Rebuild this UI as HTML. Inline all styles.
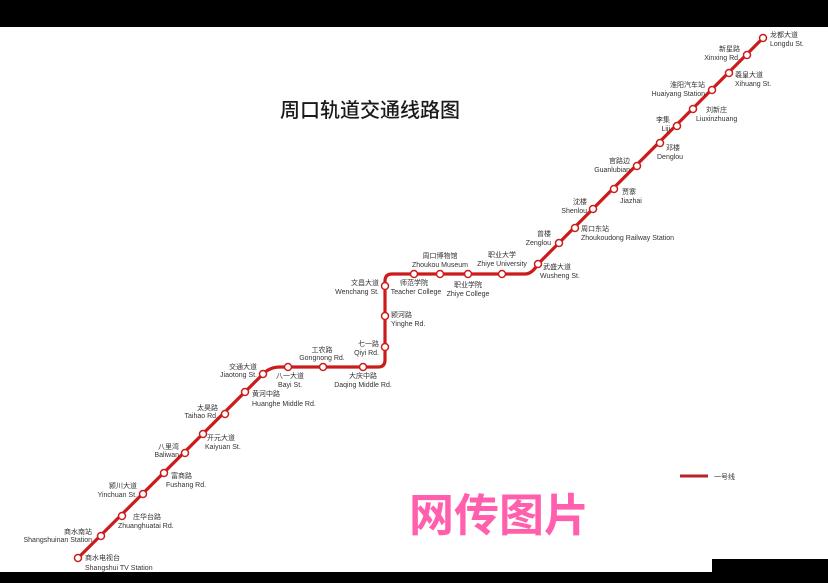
<!DOCTYPE html>
<html><head><meta charset="utf-8"><style>
html,body{margin:0;padding:0;background:#fff;}
svg{display:block;}
text{font-family:"Liberation Sans","Noto Sans CJK SC",sans-serif;fill:#333;font-size:7px;}
</style></head><body>
<svg width="828" height="583" viewBox="0 0 828 583" xmlns="http://www.w3.org/2000/svg">
<rect x="0" y="0" width="828" height="583" fill="#fff"/>
<rect x="0" y="0" width="828" height="27" fill="#000"/>
<rect x="0" y="572" width="828" height="11" fill="#000"/>
<rect x="712" y="559" width="116" height="14" fill="#000"/>
<text x="280" y="117" style="font-size:20px;fill:#1a1a1a;font-weight:500">周口轨道交通线路图</text>
<path d="M78,558 L263,374 Q270,367 280,367 L378,367 Q385,367 385,360 L385,281 Q385,274 392,274 L525,274 Q532,274 538,264 L763,38" fill="none" stroke="#cc1b1b" stroke-width="3.2" stroke-linejoin="round"/>
<g fill="#fff" stroke="#cc1b1b" stroke-width="1.5">
<circle cx="763" cy="38" r="3.5"/><circle cx="747" cy="55" r="3.5"/><circle cx="729" cy="73" r="3.5"/><circle cx="712" cy="90" r="3.5"/><circle cx="693" cy="109" r="3.5"/><circle cx="677" cy="126" r="3.5"/><circle cx="660" cy="143" r="3.5"/><circle cx="637" cy="166" r="3.5"/><circle cx="614" cy="189" r="3.5"/><circle cx="593" cy="209" r="3.5"/><circle cx="575" cy="228" r="3.5"/><circle cx="559" cy="243" r="3.5"/><circle cx="538" cy="264" r="3.5"/>
<circle cx="502" cy="274" r="3.5"/><circle cx="468" cy="274" r="3.5"/><circle cx="440" cy="274" r="3.5"/><circle cx="414" cy="274" r="3.5"/>
<circle cx="385" cy="286" r="3.5"/><circle cx="385" cy="316" r="3.5"/><circle cx="385" cy="347" r="3.5"/>
<circle cx="363" cy="367" r="3.5"/><circle cx="323" cy="367" r="3.5"/><circle cx="288" cy="367" r="3.5"/><circle cx="263" cy="374" r="3.5"/>
<circle cx="245" cy="392" r="3.5"/><circle cx="225" cy="414" r="3.5"/><circle cx="203" cy="434" r="3.5"/><circle cx="185" cy="453" r="3.5"/><circle cx="164" cy="473" r="3.5"/><circle cx="143" cy="494" r="3.5"/><circle cx="122" cy="516" r="3.5"/><circle cx="101" cy="536" r="3.5"/><circle cx="78" cy="558" r="3.5"/>
</g>
<g>
<text x="770" y="37">龙都大道</text><text x="770" y="46">Longdu St.</text>
<g text-anchor="end"><text x="740" y="51">新星路</text><text x="740" y="60">Xinxing Rd.</text></g>
<text x="735" y="77">羲皇大道</text><text x="735" y="86">Xihuang St.</text>
<g text-anchor="end"><text x="705" y="87">淮阳汽车站</text><text x="705" y="96">Huaiyang Station</text></g>
<text x="706" y="112">刘新庄</text><text x="696" y="121">Liuxinzhuang</text>
<g text-anchor="end"><text x="670" y="122">李集</text><text x="670" y="131">Liji</text></g>
<text x="666" y="150">邓楼</text><text x="657" y="159">Denglou</text>
<g text-anchor="end"><text x="630" y="163">官路边</text><text x="630" y="172">Guanlubian</text></g>
<text x="622" y="194">贾寨</text><text x="620" y="203">Jiazhai</text>
<g text-anchor="end"><text x="587" y="204">沈楼</text><text x="587" y="213">Shenlou</text></g>
<text x="581" y="231">周口东站</text><text x="581" y="240">Zhoukoudong Railway Station</text>
<g text-anchor="end"><text x="551" y="236">曾楼</text><text x="551" y="245">Zenglou</text></g>
<text x="543" y="269">武盛大道</text><text x="540" y="278">Wusheng St.</text>
<g text-anchor="middle">
<text x="502" y="257">职业大学</text><text x="502" y="266">Zhiye University</text>
<text x="440" y="258">周口博物馆</text><text x="440" y="267">Zhoukou Museum</text>
<text x="468" y="287">职业学院</text><text x="468" y="296">Zhiye College</text>
<text x="414" y="285">师范学院</text><text x="416" y="294">Teacher College</text>
<text x="322" y="352">工农路</text><text x="322" y="360">Gongnong Rd.</text>
<text x="363" y="378">大庆中路</text><text x="363" y="387">Daqing Middle Rd.</text>
</g>
<g text-anchor="end"><text x="379" y="285">文昌大道</text><text x="379" y="294">Wenchang St.</text></g>
<text x="391" y="317">颍河路</text><text x="391" y="326">Yinghe Rd.</text>
<g text-anchor="end"><text x="379" y="346">七一路</text><text x="379" y="355">Qiyi Rd.</text></g>
<text x="276" y="378">八一大道</text><text x="278" y="387">Bayi St.</text>
<g text-anchor="end"><text x="257" y="369">交通大道</text><text x="257" y="377">Jiaotong St.</text></g>
<text x="252" y="396">黄河中路</text><text x="252" y="406">Huanghe Middle Rd.</text>
<g text-anchor="end"><text x="218" y="410">太昊路</text><text x="218" y="418">Taihao Rd.</text></g>
<text x="207" y="440">开元大道</text><text x="205" y="449">Kaiyuan St.</text>
<g text-anchor="end"><text x="179" y="449">八里湾</text><text x="179" y="457">Baliwan</text></g>
<text x="171" y="478">富商路</text><text x="166" y="487">Fushang Rd.</text>
<g text-anchor="end"><text x="137" y="488">颍川大道</text><text x="137" y="497">Yinchuan St.</text></g>
<text x="133" y="519">庄华台路</text><text x="118" y="528">Zhuanghuatai Rd.</text>
<g text-anchor="end"><text x="92" y="534">商水南站</text><text x="92" y="542">Shangshuinan Station</text></g>
<text x="85" y="560">商水电视台</text><text x="85" y="570">Shangshui TV Station</text>
</g>
<line x1="680" y1="476" x2="708" y2="476" stroke="#b8202a" stroke-width="3"/>
<text x="714" y="479">一号线</text>
<text x="409" y="531" style="font-size:45px;fill:#ff5fac;font-weight:bold">网传图片</text>
</svg>
</body></html>
